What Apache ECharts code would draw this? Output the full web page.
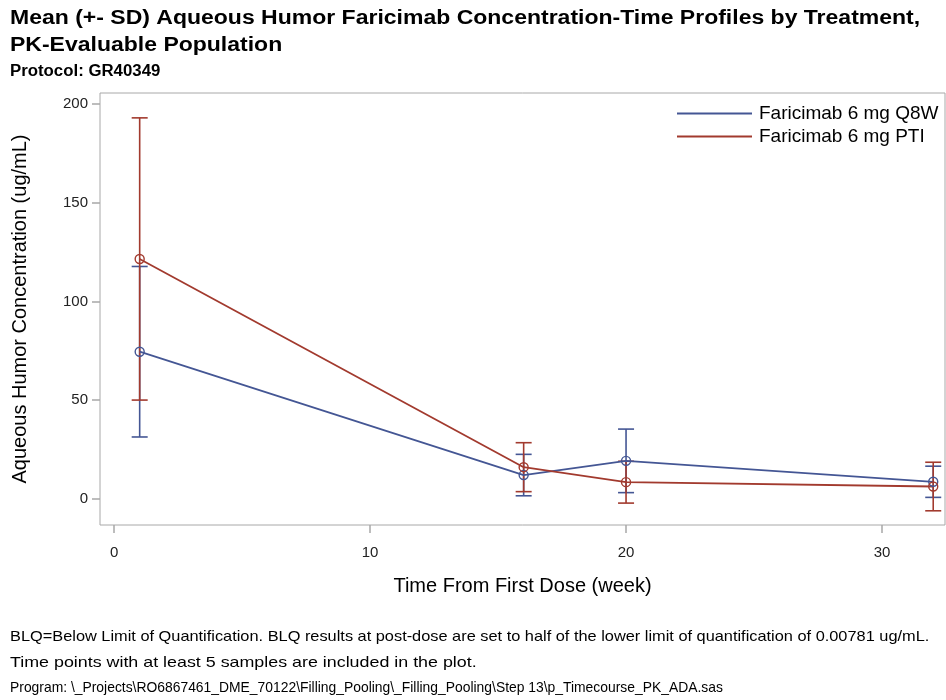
<!DOCTYPE html>
<html>
<head>
<meta charset="utf-8">
<script src="https://cdn.jsdelivr.net/npm/echarts@6/dist/echarts.min.js"></script>
<style>html,body{margin:0;padding:0;background:#fff}#c{width:946px;height:700px}</style>
</head>
<body>
<div id="c"></div>
<script>
// ---- data ----
var weeks = [1, 16, 20, 32];
var q8wMean = [74.5, 12.0, 19.2, 8.6];
var q8wSD = [43.2, 10.5, 16.1, 7.9];
var ptiMean = [121.5, 16.0, 8.4, 6.2];
var ptiSD = [71.5, 12.4, 10.6, 12.3];
var seriesNames = ['Faricimab 6 mg Q8W', 'Faricimab 6 mg PTI'];
var xTicks = [0, 10, 20, 30];
var yTicks = [0, 50, 100, 150, 200];
var titleLines = ['Mean (+- SD) Aqueous Humor Faricimab Concentration-Time Profiles by Treatment,', 'PK-Evaluable Population'];
var protocolText = 'Protocol: GR40349';
var footnotes = [
  'BLQ=Below Limit of Quantification. BLQ results at post-dose are set to half of the lower limit of quantification of 0.00781 ug/mL.',
  'Time points with at least 5 samples are included in the plot.',
  'Program: \\_Projects\\RO6867461_DME_70122\\Filling_Pooling\\_Filling_Pooling\\Step 13\\p_Timecourse_PK_ADA.sas'
];

var colors = ['#445694', '#A23A2E'];
var FONT = 'Liberation Sans, Arial, sans-serif';

function pts(m) { return weeks.map(function (w, i) { return [w, m[i]]; }); }
function errs(m, s) { return weeks.map(function (w, i) { return [w, m[i] - s[i], m[i] + s[i]]; }); }

function errRender(color) {
  return function (params, api) {
    var x = api.value(0);
    var lo = api.coord([x, api.value(1)]);
    var hi = api.coord([x, api.value(2)]);
    var hw = 8;
    var st = { stroke: color, lineWidth: 1.6 };
    return {
      type: 'group',
      children: [
        { type: 'line', shape: { x1: lo[0], y1: lo[1], x2: hi[0], y2: hi[1] }, style: st },
        { type: 'line', shape: { x1: lo[0] - hw, y1: lo[1], x2: lo[0] + hw, y2: lo[1] }, style: st },
        { type: 'line', shape: { x1: hi[0] - hw, y1: hi[1], x2: hi[0] + hw, y2: hi[1] }, style: st }
      ]
    };
  };
}

function txt(text, x, y, font, sx) {
  return { type: 'text', x: x, y: y, scaleX: sx, silent: true,
    style: { text: text, x: 0, y: 0, font: font, fill: '#000', align: 'left', verticalAlign: 'middle', textAlign: 'left', textVerticalAlign: 'middle' } };
}

var graphics = [
  txt(titleLines[0], 10, 18, 'bold 20px ' + FONT, 1.15),
  txt(titleLines[1], 10, 45, 'bold 20px ' + FONT, 1.15),
  txt(protocolText, 10, 72, 'bold 16px ' + FONT, 1.05)
];
var footScale = [1.09, 1.19, 0.925];
footnotes.forEach(function (f, i) {
  graphics.push(txt(f, 10, 637 + i * 25.5, '15px ' + FONT, footScale[i]));
});

var chart = echarts.init(document.getElementById('c'));
chart.setOption({
  animation: false,
  backgroundColor: '#fff',
  graphic: graphics,
  grid: { left: 100, top: 93, right: 1, bottom: 175, show: true, borderColor: '#a8a8a8', borderWidth: 1, outerBoundsMode: 'none', containLabel: false },
  legend: {
    orient: 'vertical', left: 672, top: 99, itemWidth: 75, itemHeight: 2, itemGap: 4,
    textStyle: { fontFamily: FONT, fontSize: 19, color: '#000', padding: [0, 0, 0, 2] },
    data: seriesNames.map(function (n, i) { return { name: n, icon: 'rect', itemStyle: { color: colors[i], borderWidth: 0 } }; })
  },
  xAxis: {
    type: 'value', min: -0.55, max: 32.46,
    name: 'Time From First Dose (week)', nameLocation: 'middle', nameGap: 51,
    nameTextStyle: { fontFamily: FONT, fontSize: 20, color: '#000' },
    axisLine: { show: false, onZero: false },
    axisTick: { show: true, customValues: xTicks, length: 8, lineStyle: { color: '#a8a8a8', width: 1.5 } },
    axisLabel: { customValues: xTicks, fontFamily: FONT, fontSize: 15, color: '#222', margin: 20 },
    splitLine: { show: false }
  },
  yAxis: {
    type: 'value', min: -13.3, max: 205.6,
    name: 'Aqueous Humor Concentration (ug/mL)', nameLocation: 'middle', nameGap: 70,
    nameTextStyle: { fontFamily: FONT, fontSize: 20, color: '#000' },
    axisLine: { show: false, onZero: false },
    axisTick: { show: true, customValues: yTicks, length: 8, lineStyle: { color: '#a8a8a8', width: 1.5 } },
    axisLabel: { customValues: yTicks, fontFamily: FONT, fontSize: 15, color: '#222', margin: 12 },
    splitLine: { show: false }
  },
  series: [
    { type: 'custom', name: seriesNames[0] + ' SD', renderItem: errRender(colors[0]), data: errs(q8wMean, q8wSD), encode: { x: 0, y: [1, 2] }, z: 2 },
    { type: 'custom', name: seriesNames[1] + ' SD', renderItem: errRender(colors[1]), data: errs(ptiMean, ptiSD), encode: { x: 0, y: [1, 2] }, z: 2 },
    { type: 'line', name: seriesNames[0], data: pts(q8wMean), symbol: 'circle', symbolSize: 9,
      lineStyle: { color: colors[0], width: 1.8 }, itemStyle: { color: 'rgba(0,0,0,0)', borderColor: colors[0], borderWidth: 1.4 }, z: 3 },
    { type: 'line', name: seriesNames[1], data: pts(ptiMean), symbol: 'circle', symbolSize: 9,
      lineStyle: { color: colors[1], width: 1.8 }, itemStyle: { color: 'rgba(0,0,0,0)', borderColor: colors[1], borderWidth: 1.4 }, z: 3 }
  ]
});
</script>
</body>
</html>
